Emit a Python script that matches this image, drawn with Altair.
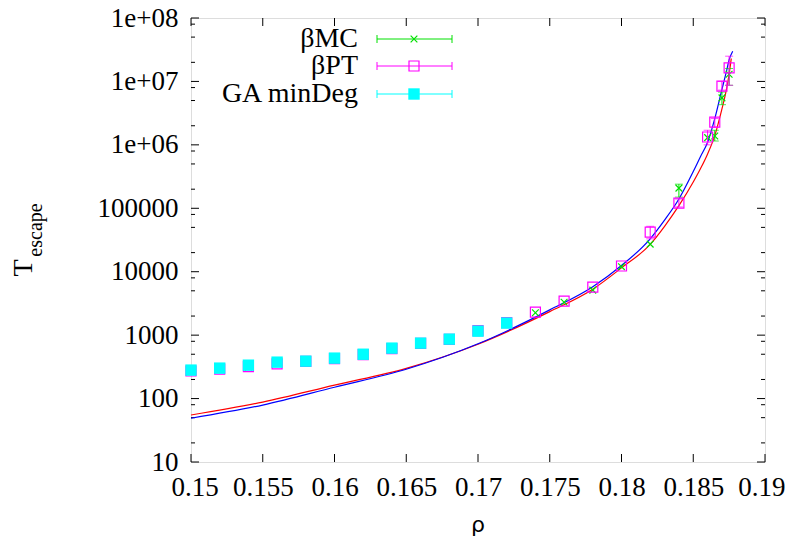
import altair as alt
import pandas as pd

# ---------------- data ----------------
rho_mc = [0.150, 0.152, 0.154, 0.156, 0.158, 0.160, 0.162, 0.164, 0.166, 0.168, 0.170,
          0.172, 0.174, 0.176, 0.178, 0.180, 0.182, 0.184, 0.186, 0.1865, 0.187, 0.1875]
T_mc = [278, 298, 312, 360, 385, 430, 490, 600, 735, 855, 1140,
        1530, 2250, 3300, 5130, 12000, 27200, 208000, 1.3e6, 1.38e6, 5.5e6, 1.3e7]
err_rho_mc = [0.184, 0.1865, 0.187, 0.1875]
err_lo_mc = [1.5e5, 1.15e6, 4.3e6, 8.7e6]
err_hi_mc = [2.4e5, 1.7e6, 6.8e6, 1.6e7]

rho_pt = [0.150, 0.152, 0.154, 0.156, 0.158, 0.160, 0.162, 0.164, 0.166, 0.168, 0.170,
          0.172, 0.174, 0.176, 0.178, 0.180, 0.182, 0.184, 0.186, 0.1865, 0.187, 0.1875]
T_pt = [272, 292, 318, 352, 385, 425, 492, 612, 740, 860, 1180,
        1580, 2300, 3440, 5710, 12300, 42000, 121000, 1.33e6, 2.28e6, 8.46e6, 1.63e7]
err_rho_pt = [0.182, 0.184, 0.186, 0.1865, 0.187, 0.1875]
err_lo_pt = [33000, 105000, 1.0e6, 1.9e6, 7.3e6, 8.7e6]
err_hi_pt = [52000, 140000, 1.7e6, 2.6e6, 1.0e7, 2.5e7]

rho_ga = [0.150, 0.152, 0.154, 0.156, 0.158, 0.160, 0.162, 0.164, 0.166, 0.168, 0.170, 0.172]
T_ga = [281, 302, 336, 375, 389, 434, 500, 624, 748, 865, 1156, 1550]

rho_fit_blue = [0.150, 0.155, 0.160, 0.165, 0.170, 0.175, 0.178, 0.180, 0.182, 0.183,
                0.184, 0.185, 0.1855, 0.186, 0.1865, 0.187, 0.1873, 0.1875, 0.18775]
T_fit_blue = [49, 79, 151, 290, 730, 2500, 5800, 12500, 33000, 65000,
              140000, 380000, 650000, 1.1e6, 2.6e6, 7.5e6, 1.4e7, 2.2e7, 3.0e7]
rho_fit_red = [0.150, 0.155, 0.160, 0.165, 0.170, 0.175, 0.178, 0.180, 0.182, 0.183,
               0.184, 0.185, 0.1855, 0.186, 0.1865, 0.187, 0.1873, 0.1875, 0.18765]
T_fit_red = [55, 88, 163, 300, 720, 2350, 5300, 11500, 27000, 52000,
             110000, 260000, 420000, 720000, 1.4e6, 3.7e6, 7.2e6, 1.3e7, 2.3e7]

x_ticks = [0.15, 0.155, 0.16, 0.165, 0.17, 0.175, 0.18, 0.185, 0.19]
y_major = [10, 100, 1000, 10000, 100000, 1e6, 1e7, 1e8]
y_minor = [20, 50, 80, 200, 500, 800, 2000, 5000, 8000, 20000, 50000, 80000,
           2e5, 5e5, 8e5, 2e6, 5e6, 8e6, 2e7, 5e7, 8e7]
legend_names = ["βMC", "βPT", "GA minDeg"]

# ---------------- style ----------------
W, H = 574, 444
SERIF = "Liberation Serif, Times New Roman, serif"
GREEN, MAGENTA, CYAN = "#00e000", "#ff00ff", "#00ffff"

xs = alt.Scale(domain=[0.15, 0.19], nice=False, zero=False)
ys = alt.Scale(type="log", domain=[10, 1e8], nice=False)

XAXIS = alt.Axis(
    values=x_ticks, format=".4~g", labelFont=SERIF, labelFontSize=27,
    labelColor="black", ticks=False, domain=False, grid=False,
    labelPadding=12, title=None, labelFlush=True, labelFlushOffset=20)
YAXIS = alt.Axis(
    values=y_major, labelFont=SERIF, labelFontSize=27, labelColor="black",
    ticks=False, domain=False, grid=False, labelPadding=13, title=None,
    labelFlush=False,
    labelExpr="datum.value >= 1e6 ? '1e+0' + format(log(datum.value)/LN10, '.0f') : format(datum.value, 'd')")


def df(**kw):
    return pd.DataFrame(kw)


mc = df(rho=rho_mc, T=T_mc)
pt = df(rho=rho_pt, T=T_pt)
ga = df(rho=rho_ga, T=T_ga)
emc = df(rho=err_rho_mc, lo=err_lo_mc, hi=err_hi_mc)
ept = df(rho=err_rho_pt, lo=err_lo_pt, hi=err_hi_pt)
fb = df(rho=rho_fit_blue, T=T_fit_blue)
fr = df(rho=rho_fit_red, T=T_fit_red)


def X():
    return alt.X("rho:Q", scale=xs, axis=XAXIS)


def Y(f="T"):
    return alt.Y(f + ":Q", scale=ys, axis=YAXIS)


xt = df(rho=x_ticks)
ymj = df(T=y_major)
ymn = df(T=y_minor)
tk = dict(color="black", strokeWidth=1)
ticks = [
    alt.Chart(xt).mark_rule(**tk).encode(x=X(), y=alt.value(H), y2=alt.value(H - 8)),
    alt.Chart(xt).mark_rule(**tk).encode(x=X(), y=alt.value(0), y2=alt.value(8)),
    alt.Chart(ymj).mark_rule(**tk).encode(y=Y(), x=alt.value(0), x2=alt.value(8)),
    alt.Chart(ymj).mark_rule(**tk).encode(y=Y(), x=alt.value(W), x2=alt.value(W - 8)),
    alt.Chart(ymn).mark_rule(**tk).encode(y=Y(), x=alt.value(0), x2=alt.value(4)),
    alt.Chart(ymn).mark_rule(**tk).encode(y=Y(), x=alt.value(W), x2=alt.value(W - 4)),
]

curves = [
    alt.Chart(fr).mark_line(color="#ff0000", strokeWidth=1.2, interpolate="monotone").encode(x=X(), y=Y()),
    alt.Chart(fb).mark_line(color="#0000ff", strokeWidth=1.2, interpolate="monotone").encode(x=X(), y=Y()),
]

XSHAPE = "M-1,-1L1,1M-1,1L1,-1"


def errbars(d, color):
    return [
        alt.Chart(d).mark_rule(color=color, strokeWidth=1).encode(x=X(), y=Y("lo"), y2="hi:Q"),
        alt.Chart(d).mark_tick(color=color, orient="horizontal", size=8, thickness=1).encode(x=X(), y=Y("lo")),
        alt.Chart(d).mark_tick(color=color, orient="horizontal", size=8, thickness=1).encode(x=X(), y=Y("hi")),
    ]


pts = (
    errbars(emc, GREEN)
    + [alt.Chart(mc).mark_point(shape=XSHAPE, size=45, color=GREEN, filled=False, strokeWidth=1.2, opacity=1).encode(x=X(), y=Y())]
    + errbars(ept, MAGENTA)
    + [alt.Chart(pt).mark_point(shape="square", size=100, color=MAGENTA, filled=False, strokeWidth=1.2, opacity=1).encode(x=X(), y=Y())]
    + [alt.Chart(ga).mark_point(shape="square", size=130, color=CYAN, filled=True, opacity=1).encode(x=X(), y=Y())]
)

# legend (gnuplot style)
one = df(a=[0])
leg = []
rows_y = [21, 48, 76]
styles = [
    dict(shape=XSHAPE, size=45, color=GREEN, filled=False, strokeWidth=1.2),
    dict(shape="square", size=100, color=MAGENTA, filled=False, strokeWidth=1.2),
    dict(shape="square", size=130, color=CYAN, filled=True),
]
for name, yy, st in zip(legend_names, rows_y, styles):
    c = st["color"]
    leg.append(alt.Chart(one).mark_text(text=name, font=SERIF, fontSize=28, align="right",
                                        baseline="middle", color="black").encode(
        x=alt.value(167), y=alt.value(yy)))
    leg.append(alt.Chart(one).mark_rule(color=c, strokeWidth=1).encode(
        x=alt.value(186), x2=alt.value(261), y=alt.value(yy)))
    for xx in (186, 261):
        leg.append(alt.Chart(one).mark_rule(color=c, strokeWidth=1).encode(
            x=alt.value(xx), y=alt.value(yy - 4), y2=alt.value(yy + 4)))
    leg.append(alt.Chart(one).mark_point(opacity=1, **st).encode(x=alt.value(223), y=alt.value(yy)))

titles = [
    alt.Chart(one).mark_text(text="ρ", font="DejaVu Sans", fontSize=22, align="center",
                             baseline="alphabetic", color="black").encode(
        x=alt.value(W / 2), y=alt.value(514)),
    alt.Chart(one).mark_text(text="T", font=SERIF, fontSize=28, angle=270, align="center",
                             baseline="middle", color="black").encode(
        x=alt.value(-167), y=alt.value(250)),
    alt.Chart(one).mark_text(text="escape", font=SERIF, fontSize=20, angle=270, align="center",
                             baseline="middle", color="black").encode(
        x=alt.value(-155), y=alt.value(212)),
]

chart = alt.layer(*ticks, *curves, *pts, *leg, *titles).properties(
    width=W, height=H,
    autosize=alt.AutoSizeParams(type="none"),
    padding={"left": 183, "top": 10, "right": 20, "bottom": 77},
).configure_view(stroke="black", strokeWidth=1.5).configure_axis(
    labelFont=SERIF, labelFontSize=27, labelColor="black"
).configure(background="white")

chart.save("out.html", embed_options={"renderer": "svg", "actions": False})
